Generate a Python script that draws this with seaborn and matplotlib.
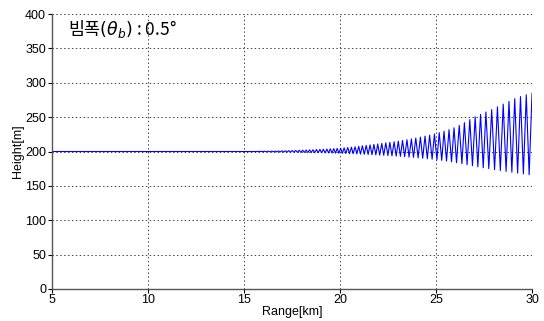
import numpy as np
import pandas as pd
import seaborn as sns
import matplotlib.pyplot as plt

# flat part of the trace before the oscillation starts
flat_km = [5.0, 15.8]
flat_m = [200.0, 200.0]

# peaks of the oscillation
peak_km = [15.9, 16.08, 16.26, 16.44, 16.62, 16.8, 16.98, 17.16, 17.34, 17.52,
           17.7, 17.88, 18.06, 18.24, 18.42, 18.6, 18.78, 18.96, 19.14, 19.32,
           19.5, 19.68, 19.86, 20.04, 20.22, 20.41, 20.6, 20.79, 20.98, 21.17,
           21.37, 21.57, 21.77, 21.97, 22.18, 22.39, 22.6, 22.82, 23.04, 23.26,
           23.49, 23.72, 23.95, 24.19, 24.43, 24.67, 24.92, 25.17, 25.42, 25.68,
           25.94, 26.21, 26.48, 26.76, 27.04, 27.32, 27.6, 27.9, 28.2, 28.5,
           28.8, 29.1, 29.4, 29.7, 30.0]
peak_m = [200.3, 200.4, 200.5, 200.6, 200.7, 200.8, 201.0, 201.1, 201.3, 201.4,
          201.6, 201.8, 202.0, 202.2, 202.4, 202.6, 202.9, 203.1, 203.3, 203.6,
          203.9, 204.2, 204.5, 204.8, 205.3, 205.8, 206.3, 206.9, 207.5, 208.2,
          208.9, 209.6, 210.3, 211.0, 211.8, 212.6, 213.4, 214.2, 215.1, 216.1,
          217.2, 218.3, 219.6, 221.0, 222.4, 223.9, 225.5, 227.4, 229.5, 231.8,
          234.5, 238.0, 242.0, 246.5, 250.5, 254.0, 257.5, 261.0, 265.0, 269.0,
          273.0, 277.0, 280.0, 282.5, 285.0]

# troughs between the peaks
trough_km = [15.99, 16.17, 16.35, 16.53, 16.71, 16.89, 17.07, 17.25, 17.43, 17.61,
             17.79, 17.97, 18.15, 18.33, 18.51, 18.69, 18.87, 19.05, 19.23, 19.41,
             19.59, 19.77, 19.95, 20.13, 20.31, 20.5, 20.69, 20.88, 21.07, 21.27,
             21.47, 21.67, 21.87, 22.07, 22.28, 22.5, 22.71, 22.93, 23.15, 23.37,
             23.6, 23.83, 24.07, 24.31, 24.55, 24.8, 25.05, 25.3, 25.55, 25.81,
             26.07, 26.35, 26.62, 26.9, 27.18, 27.46, 27.75, 28.05, 28.35, 28.65,
             28.95, 29.25, 29.55, 29.85]
trough_m = [199.8, 199.7, 199.7, 199.6, 199.5, 199.4, 199.3, 199.2, 199.1, 199.0,
            198.9, 198.8, 198.7, 198.6, 198.5, 198.4, 198.3, 198.2, 198.0, 197.9,
            197.8, 197.6, 197.5, 197.3, 197.1, 196.9, 196.7, 196.5, 196.2, 196.0,
            195.7, 195.4, 195.1, 194.8, 194.5, 194.1, 193.7, 193.3, 192.9, 192.4,
            191.9, 191.4, 190.8, 190.2, 189.5, 188.8, 188.0, 187.1, 186.1, 185.0,
            183.7, 182.3, 180.8, 179.3, 177.8, 176.4, 175.0, 173.6, 172.2, 171.0,
            169.8, 168.6, 167.4, 166.2]

x_ticks = [5, 10, 15, 20, 25, 30]
y_ticks = [0, 50, 100, 150, 200, 250, 300, 350, 400]

# build the trace: flat part, then peak / trough alternately
df = pd.concat([
    pd.DataFrame({'range': flat_km, 'height': flat_m}),
    pd.DataFrame({'range': peak_km, 'height': peak_m}),
    pd.DataFrame({'range': trough_km, 'height': trough_m}),
]).sort_values('range').reset_index(drop=True)

sns.set_style('white')
plt.rcParams['font.family'] = ['Liberation Sans', 'DejaVu Sans']
plt.rcParams['text.color'] = 'black'
plt.rcParams['axes.labelcolor'] = 'black'
plt.rcParams['xtick.color'] = 'black'
plt.rcParams['ytick.color'] = 'black'

fig = plt.figure(figsize=(5.44, 3.21), dpi=100)
ax = fig.add_axes([0.095, 0.1, 0.883, 0.856])

sns.lineplot(data=df, x='range', y='height', sort=False, estimator=None,
             color='#0000ff', linewidth=0.8, ax=ax)

ax.set_xlim(5, 30)
ax.set_ylim(0, 400)
ax.set_xticks(x_ticks)
ax.set_yticks(y_ticks)
ax.tick_params(labelsize=9, length=3, width=0.8, pad=1,
               direction='out', left=True, bottom=True)
ax.grid(True, color='#444444', linestyle=(0, (1.5, 2.5)), linewidth=0.7)
for s in ['top', 'right']:
    ax.spines[s].set_visible(False)
for s in ['left', 'bottom']:
    ax.spines[s].set_color('#555555')
    ax.spines[s].set_linewidth(1.0)

ax.set_xlabel('Range[km]', fontsize=9, labelpad=0)
ax.set_ylabel('Height[m]', fontsize=9, labelpad=1)

ax.text(0.035, 0.945, '빔폭$(\\theta_b)$ : 0.5°', transform=ax.transAxes,
        fontsize=12.5, va='center', ha='left',
        family=['Noto Sans CJK KR', 'DejaVu Sans'])

fig.savefig('out.png', dpi=100, facecolor='white')
